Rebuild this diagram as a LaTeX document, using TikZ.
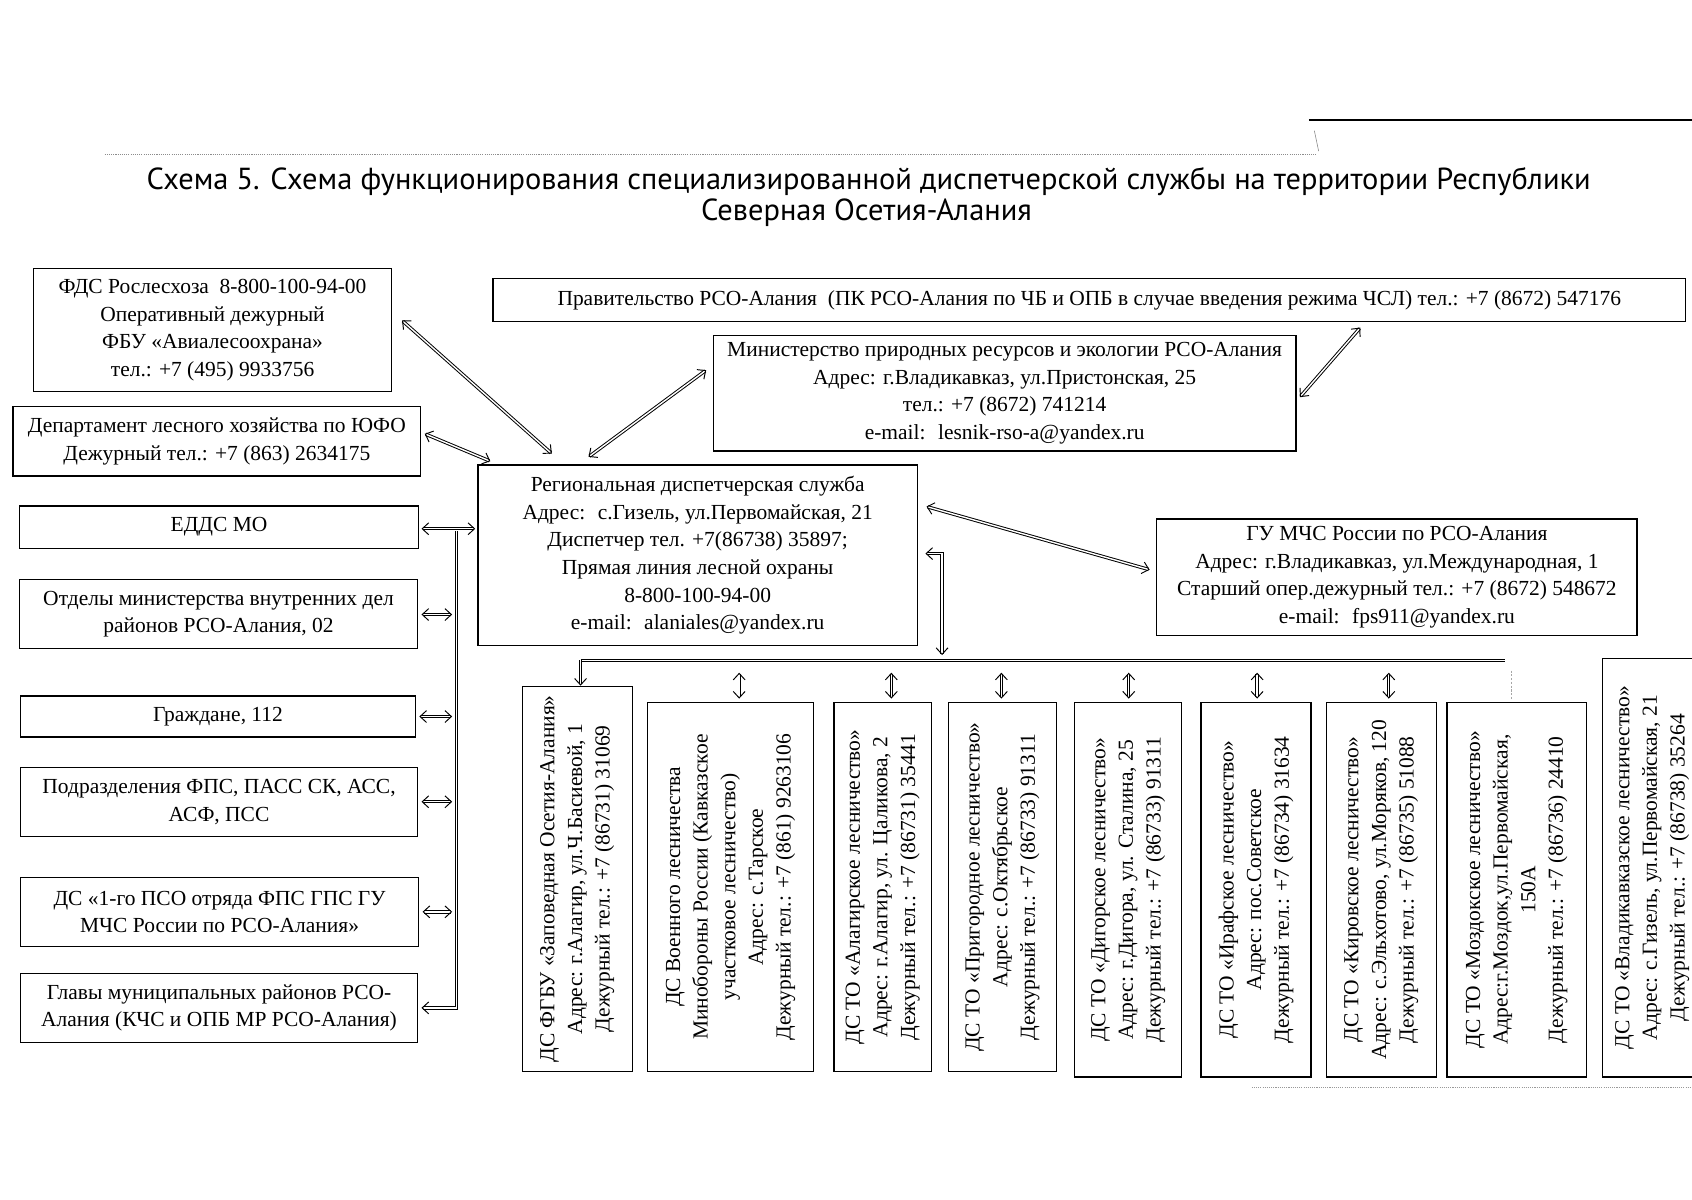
\documentclass[tikz,border=0pt]{standalone}
\usepackage{fontspec}
\setmainfont{Liberation Serif}
\newfontfamily\titlefont{PT Sans}
\usetikzlibrary{arrows.meta,calc}
\newcommand\bxfont{\fontsize{19.9}{25.6}\selectfont}
\begin{document}
\begin{tikzpicture}[x=1pt,y=-1pt,
  box/.style={draw=black, line width=1.2pt, inner sep=0pt, align=center, font=\bxfont},
  dbl/.style={draw=black, line width=0.9pt, double=white, double distance=1.3pt},
  arr/.style={dbl, {Straight Barb[length=6pt,width=11pt]}-{Straight Barb[length=6pt,width=11pt]}},
  arrend/.style={dbl, -{Straight Barb[length=6pt,width=11pt]}},
  arrstart/.style={dbl, {Straight Barb[length=6pt,width=11pt]}-},
  ttl/.style={font=\titlefont\fontsize{28.2}{33}\selectfont, inner sep=0pt}]
\useasboundingbox (0,0) rectangle (1568,1112.05);
\fill[white] (0,0) rectangle (1568,1112.05);

% decorative lines
\draw[black!45, line width=0.8pt, dash pattern=on 1pt off 1pt] (97,143) -- (1220,143);
\draw[line width=2pt] (1213,111) -- (1568,111);
\draw[black!50, line width=0.5pt] (1218,121) -- (1222,140);
\draw[black!40, line width=0.8pt, dash pattern=on 1pt off 1pt] (1160,1008) -- (1568,1008);

% title
\node[ttl] (t1) at (805,168) {Схема 5. Схема функционирования специализированной диспетчерской службы на территории Республики};
\node[ttl] (t2) at (803,197) {Северная Осетия-Алания};

% left column
\node[box, minimum width=332pt, minimum height=114pt] (fds) at (197,306)
  {ФДС Рослесхоза \ 8-800-100-94-00\\Оперативный дежурный\\ФБУ «Авиалесоохрана»\\ тел.: +7 (495) 9933756};
\node[box, minimum width=378pt, minimum height=64pt] (dep) at (201,409)
  {Департамент лесного хозяйства по ЮФО\\Дежурный тел.: +7 (863) 2634175};
\node[box, minimum width=370pt, minimum height=39pt] (edds) at (203,488.5) {ЕДДС МО};
\node[box, minimum width=369pt, minimum height=64pt] (otd) at (202.5,569)
  {Отделы министерства внутренних дел\\районов РСО-Алания, 02};
\node[box, minimum width=366pt, minimum height=38pt] (grazh) at (202,664) {Граждане, 112};
\node[box, minimum width=368pt, minimum height=64pt] (podr) at (203,743)
  {Подразделения ФПС, ПАСС СК, АСС,\\АСФ, ПСС};
\node[box, minimum width=369pt, minimum height=64pt] (pso) at (203.5,845)
  {ДС «1-го ПСО отряда ФПС ГПС ГУ\\МЧС России по РСО-Алания»};
\node[box, minimum width=368pt, minimum height=64pt] (glavy) at (203,934)
  {Главы муниципальных районов РСО-\\Алания (КЧС и ОПБ МР РСО-Алания)};

% top and centre
\node[box, minimum width=1105pt, minimum height=40pt] (prav) at (1009.5,278)
  {Правительство РСО-Алания \ (ПК РСО-Алания по ЧБ и ОПБ в случае введения режима ЧСЛ) тел.: +7 (8672) 547176};
\node[box, minimum width=540pt, minimum height=107pt] (mnr) at (931,364.5)
  {Министерство природных ресурсов и экологии РСО-Алания\\Адрес: г.Владикавказ, ул.Пристонская, 25\\тел.: +7 (8672) 741214\\e-mail: \ lesnik-rso-a@yandex.ru};
\node[box, minimum width=407pt, minimum height=167pt] (rds) at (646.5,514.5)
  {Региональная диспетчерская служба\\Адрес: \ с.Гизель, ул.Первомайская, 21\\Диспетчер тел. +7(86738) 35897;\\Прямая линия лесной охраны\\8-800-100-94-00\\e-mail: \ alaniales@yandex.ru};
\node[box, minimum width=445pt, minimum height=108pt] (gu) at (1294.5,535)
  {ГУ МЧС России по РСО-Алания\\Адрес: г.Владикавказ, ул.Международная, 1\\Старший опер.дежурный тел.: +7 (8672) 548672\\e-mail: \ fps911@yandex.ru};

% bottom row (rotated)
\node[box, rotate=90, minimum width=357pt, minimum height=102pt] (b1) at (535,814.5)
  {ДС ФГБУ «Заповедная Осетия-Алания»\\Адрес: г.Алагир, ул.Ч.Басиевой, 1\\Дежурный тел.: +7 (86731) 31069};
\node[box, rotate=90, minimum width=342pt, minimum height=154pt] (b2) at (677,822)
  {ДС Военного лесничества\\Минобороны России (Кавказское\\участковое лесничество)\\Адрес: с.Тарское\\Дежурный тел.: +7 (861) 9263106};
\node[box, rotate=90, minimum width=342pt, minimum height=90pt] (b3) at (818,822)
  {ДС ТО «Алагирское лесничество»\\Адрес: г.Алагир, ул. Цаликова, 2\\Дежурный тел.: +7 (86731) 35441};
\node[box, rotate=90, minimum width=342pt, minimum height=100pt] (b4) at (929,822)
  {ДС ТО «Пригородное лесничество»\\Адрес: с.Октябрьское\\Дежурный тел.: +7 (86733) 91311};
\node[box, rotate=90, minimum width=347pt, minimum height=99pt] (b5) at (1045.5,824.5)
  {ДС ТО «Дигорское лесничество»\\Адрес: г.Дигора, ул. Сталина, 25\\Дежурный тел.: +7 (86733) 91311};
\node[box, rotate=90, minimum width=347pt, minimum height=102pt] (b6) at (1164,824.5)
  {ДС ТО «Ирафское лесничество»\\Адрес: пос.Советское\\Дежурный тел.: +7 (86734) 31634};
\node[box, rotate=90, minimum width=347pt, minimum height=102pt] (b7) at (1280,824.5)
  {ДС ТО «Кировское лесничество»\\Адрес: с.Эльхотово, ул.Моряков, 120\\Дежурный тел.: +7 (86735) 51088};
\node[box, rotate=90, minimum width=347pt, minimum height=129pt] (b8) at (1405.5,824.5)
  {ДС ТО «Моздокское лесничество»\\Адрес:г.Моздок,ул.Первомайская,\\150А\\Дежурный тел.: +7 (86736) 24410};
\node[box, rotate=90, minimum width=388pt, minimum height=92pt] (b9) at (1531,804)
  {ДС ТО «Владикавказское лесничество»\\Адрес: с.Гизель, ул.Первомайская, 21\\Дежурный тел.: +7 (86738) 35264};

% connectors: upper part
\draw[arr] ($(fds.east)+(9,-9)$) -- ($(rds.north west)+(69,-10)$);
\draw[arr] ($(dep.east)+(3,-7)$) -- ($(rds.north west)+(12,-3)$);
\draw[arr] ($(rds.north west)+(103,-7)$) -- ($(mnr.west)+(-6,-21.5)$);
\draw[arr] ($(mnr.east)+(3,3.5)$) -- ($(prav.south east)+(-302,5)$);
\draw[arr] ($(rds.north east)+(8,39)$) -- ($(gu.west)+(-6,-7)$);

% connector to the bottom bus
\coordinate (busA) at (873,607);
\coordinate (busL) at (538,612);
\coordinate (busR) at (1395,612);
\draw[arr] ($(rds.east)+(7,-1.5)$) -| (busA);
\draw[dbl, line width=1.1pt] (busL) -- (busR);
\draw[arrend] (busL) -- (busL |- b1.east);
\draw[arr] ($(b2.east)+(8,-27)$) -- ($(b2.east)+(8,-3)$);
\draw[arr] ($(b3.east)+(8,-27)$) -- ($(b3.east)+(8,-3)$);
\draw[arr] ($(b4.east)+(-1,-27)$) -- ($(b4.east)+(-1,-3)$);
\draw[arr] ($(b5.east)+(0.5,-27)$) -- ($(b5.east)+(0.5,-3)$);
\draw[arr] ($(b6.east)+(1,-27)$) -- ($(b6.east)+(1,-3)$);
\draw[arr] ($(b7.east)+(7,-27)$) -- ($(b7.east)+(7,-3)$);
\draw[black!35, line width=0.6pt, dash pattern=on 2pt off 1.5pt] ($(b8.east)+(-5,-29)$) -- ($(b8.east)+(-5,-3)$);

% left bus
\coordinate (lbT) at (423,492);
\coordinate (lbB) at (423,934);
\draw[arr] ($(edds.east)+(2,1.5)$) -- ($(edds.east -| rds.west)+(-2,1.5)$);
\draw[arrstart] ($(glavy.east)+(3,0)$) -- (lbB) -- (lbT);
\draw[arr] ($(otd.east)+(3,0.5)$) -- ($(otd.east -| lbT)+(-4,0.5)$);
\draw[arr] ($(grazh.east)+(3,0)$) -- ($(grazh.east -| lbT)+(-4,0)$);
\draw[arr] ($(podr.east)+(3,0)$) -- ($(podr.east -| lbT)+(-4,0)$);
\draw[arr] ($(pso.east)+(3,0)$) -- ($(pso.east -| lbT)+(-4,0)$);
\end{tikzpicture}
\end{document}
